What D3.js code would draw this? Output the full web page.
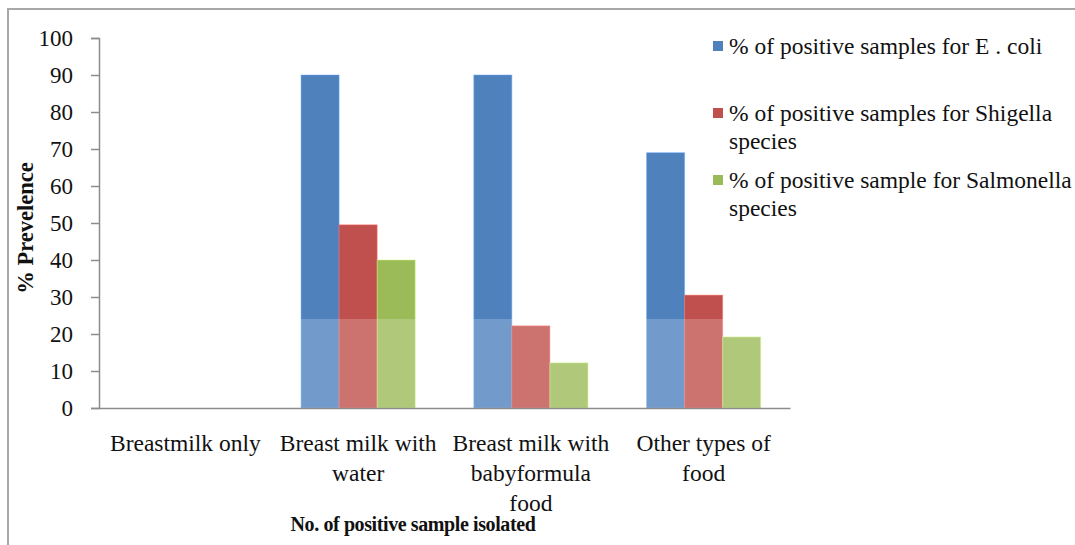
<!DOCTYPE html>
<html>
<head>
<meta charset="utf-8">
<script src="https://cdn.jsdelivr.net/npm/d3@7"></script>
<style>
  html, body { margin: 0; padding: 0; background: #fff; }
  svg { display: block; }
  svg text { font-family: "Liberation Serif", "DejaVu Serif", serif; fill: #111; }
</style>
</head>
<body>
<svg id="chart" width="1075" height="545"></svg>
<script>
// Food groups on the x axis
const categories = [
  ["Breastmilk only"],
  ["Breast milk with", "water"],
  ["Breast milk with", "babyformula", "food"],
  ["Other types of", "food"]
];
const categoryKeys = ["Breastmilk only", "Breast milk with water", "Breast milk with baby formula food", "Other types of food"];

// Prevalence (%) for each organism, one value per food group
const ecoli      = [0, 90, 90, 69];
const shigella   = [0, 49.5, 22.2, 30.5];
const salmonella = [0, 40, 12.2, 19.2];

const seriesNames = [
  ["% of positive samples for E . coli"],
  ["% of positive samples for Shigella", "species"],
  ["% of positive sample for Salmonella", "species"]
];
const seriesColors = ["#4f81bd", "#c0504d", "#9bbb59"];
const yTicks = [0, 10, 20, 30, 40, 50, 60, 70, 80, 90, 100];

const FONT = "'Liberation Serif', 'DejaVu Serif', serif";
const svg = d3.select("#chart");

// Outer chart frame (top and left edges visible)
svg.append("path")
  .attr("d", "M8,545 L8,9 L1075,9")
  .attr("fill", "none")
  .attr("stroke", "#a8a8a8")
  .attr("stroke-width", 2);

const plot = { left: 99, right: 790, top: 38, bottom: 408 };

const x0 = d3.scaleBand()
  .domain(categoryKeys)
  .range([plot.left, plot.right])
  .padding(0);

const seriesKeys = ["ecoli", "shigella", "salmonella"];
const x1 = d3.scaleBand()
  .domain(seriesKeys)
  .range([0, x0.bandwidth()])
  .paddingInner(0)
  .paddingOuter(0.77);

const y = d3.scaleLinear().domain([0, 100]).range([plot.bottom, plot.top]);

const data = categoryKeys.map((c, i) => ({
  cat: c,
  values: [
    { key: "ecoli", v: ecoli[i], color: seriesColors[0] },
    { key: "shigella", v: shigella[i], color: seriesColors[1] },
    { key: "salmonella", v: salmonella[i], color: seriesColors[2] }
  ]
}));

// Bars
const groups = svg.append("g").selectAll("g")
  .data(data)
  .join("g")
  .attr("transform", d => `translate(${x0(d.cat)},0)`);

groups.selectAll("rect")
  .data(d => d.values.filter(v => v.v > 0))
  .join("rect")
  .attr("x", d => x1(d.key))
  .attr("y", d => y(d.v))
  .attr("width", x1.bandwidth())
  .attr("height", d => y(0) - y(d.v))
  .attr("fill", d => d.color)
  .attr("stroke", d => d3.color(d.color).brighter(0.8))
  .attr("stroke-opacity", 0.5)
  .attr("stroke-width", 1);

// Pale band across the lower part of the plot
svg.append("rect")
  .attr("x", plot.left)
  .attr("y", 319)
  .attr("width", plot.right - plot.left)
  .attr("height", plot.bottom - 319)
  .attr("fill", "#fff")
  .attr("opacity", 0.2);

// Y axis
const yAxis = d3.axisLeft(y).tickValues(yTicks).tickSize(8).tickPadding(18);
const gy = svg.append("g")
  .attr("transform", `translate(${plot.left},0)`)
  .call(yAxis)
  .attr("font-family", FONT);
gy.select(".domain").attr("stroke", "#8c8c8c").attr("stroke-width", 1.5);
gy.selectAll(".tick line").attr("stroke", "#8c8c8c").attr("stroke-width", 1.5);
gy.selectAll(".tick text")
  .attr("font-family", FONT)
  .attr("font-size", 23)
  .attr("fill", "#222");

// X axis line
const xAxis = d3.axisBottom(x0).tickSize(0).tickFormat("");
const gx = svg.append("g")
  .attr("transform", `translate(0,${plot.bottom})`)
  .call(xAxis);
gx.select(".domain").attr("stroke", "#8c8c8c").attr("stroke-width", 1.5);

// Category labels (multi-line)
categoryKeys.forEach((c, i) => {
  const t = svg.append("text")
    .attr("text-anchor", "middle")
    .attr("font-family", FONT)
    .attr("font-size", 23.5);
  categories[i].forEach((line, j) => {
    t.append("tspan")
      .attr("x", x0(c) + x0.bandwidth() / 2)
      .attr("y", 443 + j * 30)
      .attr("dy", "0.35em")
      .text(line);
  });
});

// Axis titles
svg.append("text")
  .attr("x", 413)
  .attr("y", 524)
  .attr("dy", "0.35em")
  .attr("text-anchor", "middle")
  .attr("font-family", FONT)
  .attr("font-size", 20)
  .attr("font-weight", "bold")
  .attr("letter-spacing", -0.4)
  .text("No. of positive sample isolated");

svg.append("text")
  .attr("transform", "translate(25,228) rotate(-90)")
  .attr("dy", "0.35em")
  .attr("text-anchor", "middle")
  .attr("font-family", FONT)
  .attr("font-size", 22.5)
  .attr("font-weight", "bold")
  .text("% Prevelence");

// Legend
const legendRows = [
  { y: 46, color: seriesColors[0], lines: seriesNames[0] },
  { y: 113, color: seriesColors[1], lines: seriesNames[1] },
  { y: 180, color: seriesColors[2], lines: seriesNames[2] }
];
const legend = svg.append("g");
legendRows.forEach(r => {
  legend.append("rect")
    .attr("x", 713)
    .attr("y", r.y - 5)
    .attr("width", 10)
    .attr("height", 10)
    .attr("fill", r.color);
  const t = legend.append("text")
    .attr("font-family", FONT)
    .attr("font-size", 23.5);
  r.lines.forEach((line, j) => {
    t.append("tspan")
      .attr("x", 729)
      .attr("y", r.y + j * 28)
      .attr("dy", "0.35em")
      .text(line);
  });
});
</script>
</body>
</html>
